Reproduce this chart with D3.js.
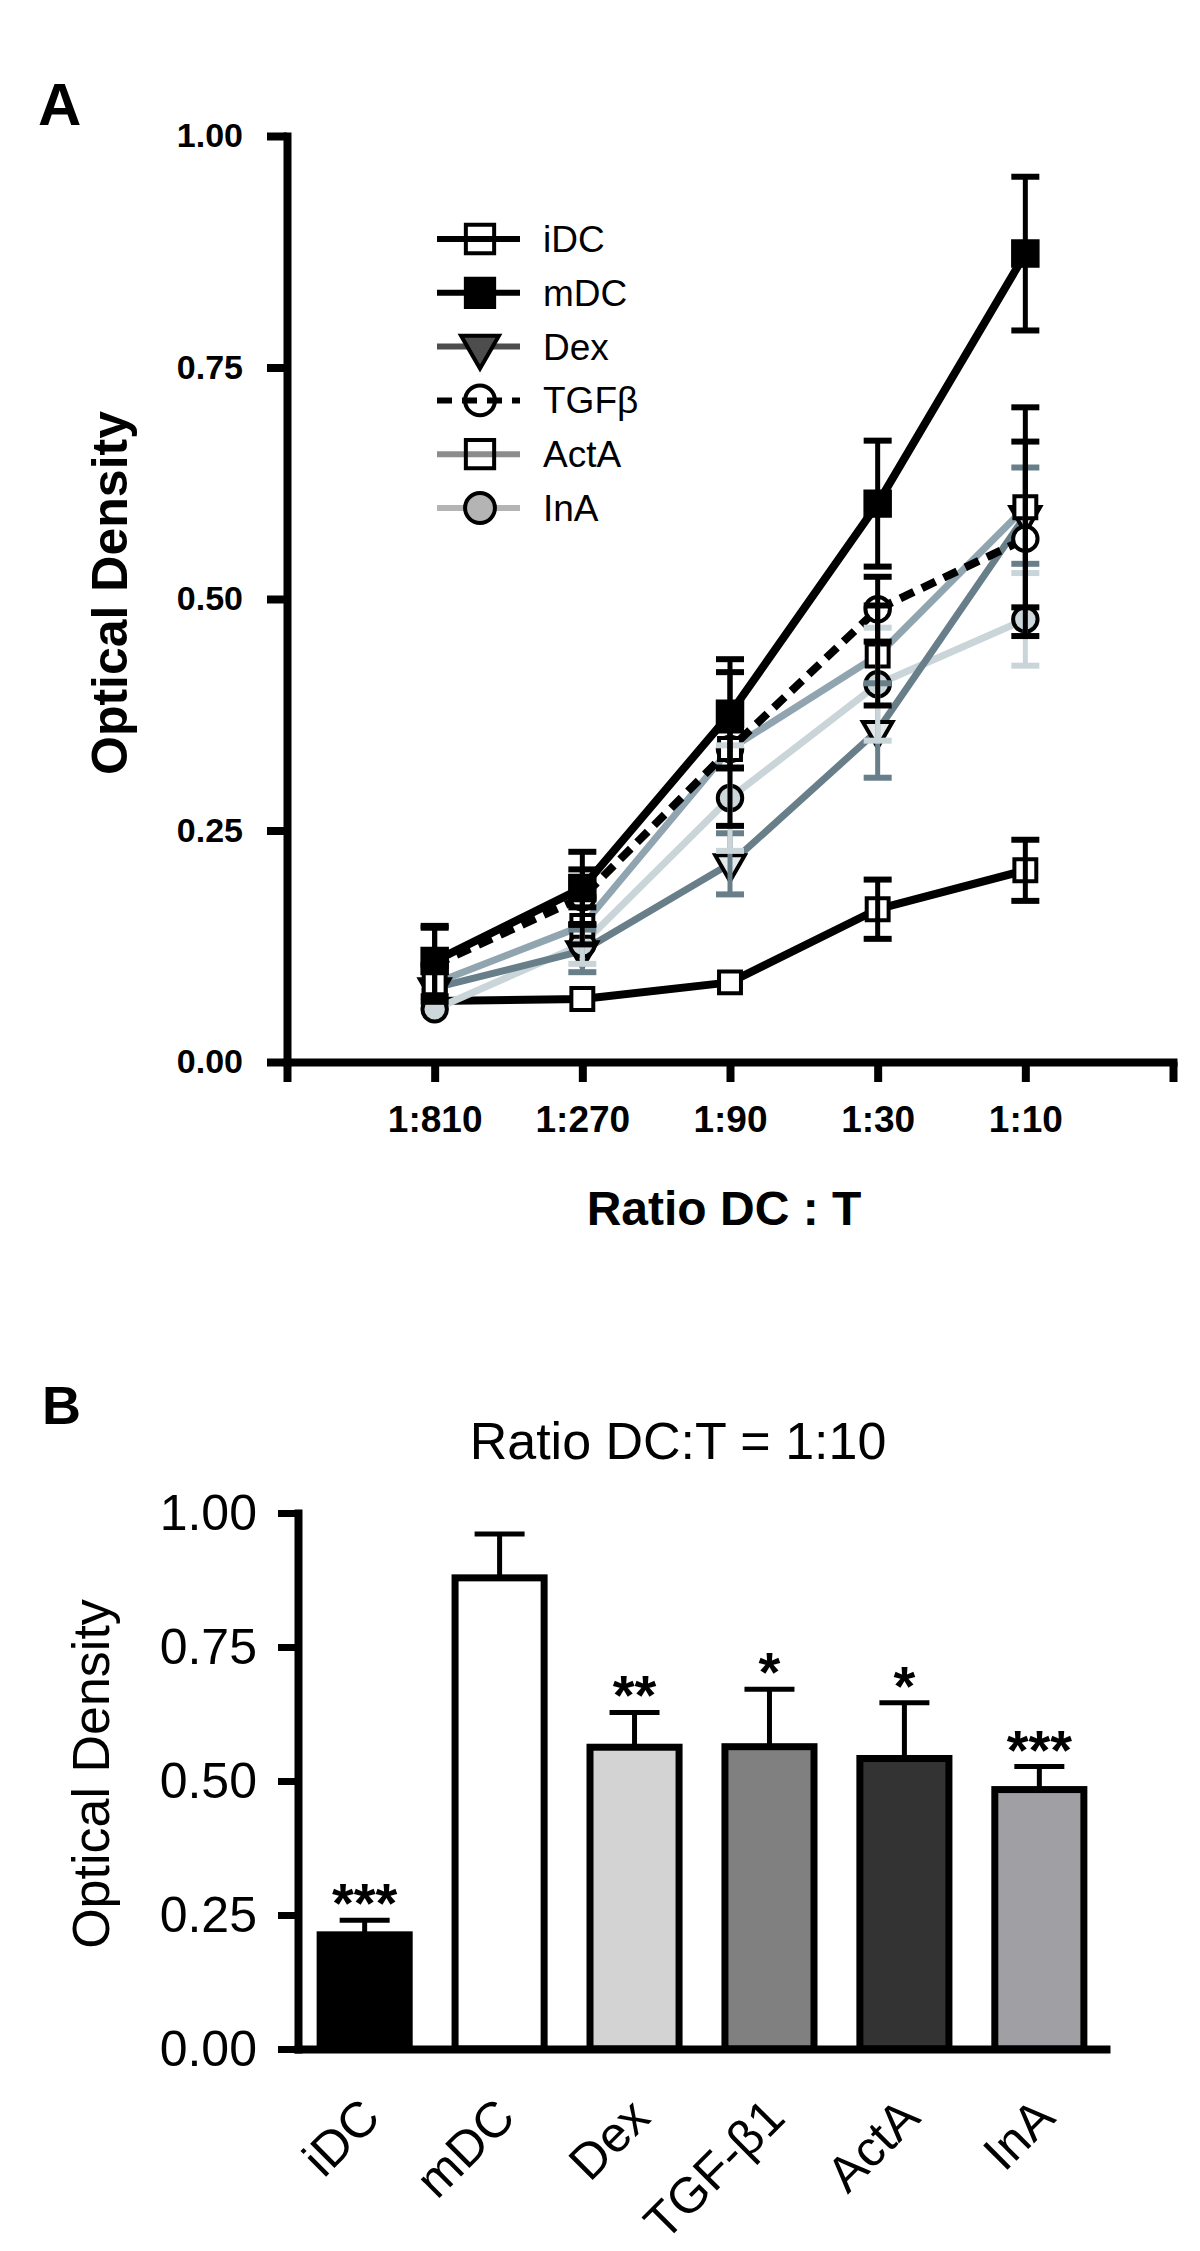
<!DOCTYPE html>
<html><head><meta charset="utf-8">
<script src="https://cdn.jsdelivr.net/npm/d3@7"></script>
<style>body{margin:0;background:#fff}svg{display:block}text{font-family:"Liberation Sans",Arial,Helvetica,sans-serif}</style>
</head><body><div id="c"></div>
<script>
// ---------- DATA ----------
const ratios = ["1:810","1:270","1:90","1:30","1:10"];
const seriesNames = ["iDC","mDC","Dex","TGFβ","ActA","InA"];
const iDC  = [0.066,0.068,0.086,0.165,0.207];
const iDCe = [0.008,0.008,0.010,0.032,0.033];
const mDC  = [0.109,0.188,0.376,0.603,0.873];
const mDCe = [0.038,0.039,0.059,0.068,0.083];
const Dex  = [0.080,0.120,0.214,0.358,0.590];
const Dexe = [0.010,0.023,0.033,0.051,0.052];
const TGF  = [0.105,0.178,0.338,0.489,0.565];
const TGFe = [0.040,0.030,0.083,0.035,0.105];
const ActA = [0.085,0.147,0.338,0.439,0.599];
const ActAe= [0.010,0.020,0.020,0.054,0.108];
const InA  = [0.057,0.127,0.285,0.408,0.478];
const InAe = [0.010,0.021,0.057,0.061,0.050];
const yTicksA = [0,0.25,0.5,0.75,1];

const barCats = ["iDC","mDC","Dex","TGF-β1","ActA","InA"];
const barVals = [0.213,0.879,0.563,0.564,0.542,0.484];
const barErr  = [0.027,0.082,0.065,0.107,0.104,0.043];
const barSig  = ["***","","**","*","*","***"];
const yTicksB = [0,0.25,0.5,0.75,1];

// ---------- STYLE ----------
const W=1200,H=2251;
const svg=d3.select("#c").append("svg").attr("width",W).attr("height",H);
svg.append("rect").attr("width",W).attr("height",H).attr("fill","#fff");

const S = {
 "iDC": {v:iDC,e:iDCe,line:"#000",lw:8,dash:null,sym:d3.symbolSquare,size:480,fill:"#fff",rot:0,ecol:"#000",
         lline:"#000",lfill:"none",lsize:800},
 "mDC": {v:mDC,e:mDCe,line:"#000",lw:8,dash:null,sym:d3.symbolSquare,size:600,fill:"#000",rot:0,ecol:"#000",
         lline:"#000",lfill:"#000",lsize:800},
 "Dex": {v:Dex,e:Dexe,line:"#687f8a",lw:7,dash:null,sym:d3.symbolTriangle,size:380,fill:"#e4e9eb",rot:180,ecol:"#687f8a",
         lline:"#4d4d4d",lfill:"#4d4d4d",lsize:620},
 "TGFβ":{v:TGF,e:TGFe,line:"#000",lw:8,dash:"15,9",sym:d3.symbolCircle,size:470,fill:"#fff",rot:0,ecol:"#000",
         lline:"#000",lfill:"none",lsize:700,ldash:"15,10"},
 "ActA":{v:ActA,e:ActAe,line:"#91a5b1",lw:7,dash:null,sym:d3.symbolSquare,size:480,fill:"#fff",rot:0,ecol:"#000",
         lline:"#8c8c8c",lfill:"none",lsize:800},
 "InA": {v:InA,e:InAe,line:"#c9d5d9",lw:7,dash:null,sym:d3.symbolCircle,size:470,fill:"#cdd7db",rot:0,ecol:"#c9d5d9",
         lline:"#b4b4b4",lfill:"#b4b4b4",lsize:700}
};

// ---------- PANEL A ----------
const xA=d3.scaleLinear([0,6],[287,1173]);
const yA=d3.scaleLinear([0,1],[1062,136]);
const gA=svg.append("g");

const axL=gA.append("g").attr("transform","translate(287,0)")
  .call(d3.axisLeft(yA).tickValues(yTicksA).tickFormat(d3.format(".2f")).tickSize(20).tickSizeOuter(0).tickPadding(24));
const axB=gA.append("g").attr("transform","translate(0,1062)")
  .call(d3.axisBottom(xA).tickValues([0,1,2,3,4,5,6]).tickFormat(i=>(i>=1&&i<=5)?ratios[i-1]:"").tickSize(20).tickSizeOuter(0).tickPadding(24));
[axL,axB].forEach(a=>{
  a.select(".domain").attr("stroke","#000").attr("stroke-width",8).attr("stroke-linecap","square");
  a.selectAll(".tick line").attr("stroke","#000").attr("stroke-width",8);
  a.selectAll("text").attr("fill","#000").attr("font-weight","bold");
});
axL.selectAll("text").attr("font-size",34);
axB.selectAll("text").attr("font-size",37);

gA.append("text").attr("x",38).attr("y",125).attr("font-size",60).attr("font-weight","bold").text("A");
gA.append("text").attr("transform","translate(127,593) rotate(-90)").attr("text-anchor","middle")
  .attr("font-size",50).attr("font-weight","bold").text("Optical Density");
gA.append("text").attr("x",724).attr("y",1225).attr("text-anchor","middle")
  .attr("font-size",48).attr("font-weight","bold").text("Ratio DC : T");

const lineGen=d3.line().x((d,i)=>xA(i+1)).y(d=>yA(d));
["iDC","InA","ActA","Dex","TGFβ","mDC"].forEach(n=>{
  const s=S[n];
  gA.append("path").attr("d",lineGen(s.v)).attr("fill","none").attr("stroke",s.line)
    .attr("stroke-width",s.lw).attr("stroke-dasharray",s.dash).attr("stroke-linejoin","round");
});
["iDC","Dex","InA","TGFβ","ActA","mDC"].forEach(n=>{
  const s=S[n];
  gA.selectAll(null).data(s.v).enter().append("path")
    .attr("d",d3.symbol(s.sym,s.size))
    .attr("transform",(d,i)=>`translate(${xA(i+1)},${yA(d)}) rotate(${s.rot})`)
    .attr("fill",s.fill).attr("stroke","#000").attr("stroke-width",4);
});
["iDC","Dex","InA","ActA","TGFβ","mDC"].forEach(n=>{
  const s=S[n];
  s.v.forEach((d,i)=>{
    const e=s.e[i]; if((yA(0)-yA(e))<14) return;
    const x=xA(i+1);
    const g=gA.append("g").attr("stroke",s.ecol);
    g.append("line").attr("x1",x).attr("x2",x).attr("y1",yA(d-e)).attr("y2",yA(d+e)).attr("stroke-width",5);
    [d-e,d+e].forEach(v=>g.append("line").attr("x1",x-14).attr("x2",x+14).attr("y1",yA(v)).attr("y2",yA(v)).attr("stroke-width",6));
  });
});

// legend
const ly=d3.scalePoint(seriesNames,[239,508]);
seriesNames.forEach(n=>{
  const s=S[n], y=ly(n);
  gA.append("line").attr("x1",437).attr("x2",520).attr("y1",y).attr("y2",y)
    .attr("stroke",s.lline).attr("stroke-width",6).attr("stroke-dasharray",s.ldash||null);
  gA.append("path").attr("d",d3.symbol(s.sym,s.lsize))
    .attr("transform",`translate(480,${y}) rotate(${s.rot})`)
    .attr("fill",s.lfill).attr("stroke","#000").attr("stroke-width",4);
  gA.append("text").attr("x",543).attr("y",y+13).attr("font-size",37).text(n);
});

// ---------- PANEL B ----------
const xB=d3.scaleBand(barCats,[298,1106]).paddingInner(0.34).paddingOuter(0.164);
const yB=d3.scaleLinear([0,1],[2049,1513]);
const barFill=["#000","#fff","#d3d3d3","#808080","#333333","#a0a0a4"];
const gB=svg.append("g");

gB.append("text").attr("x",42).attr("y",1424).attr("font-size",54).attr("font-weight","bold").text("B");
gB.append("text").attr("x",678).attr("y",1459).attr("text-anchor","middle").attr("font-size",52).text("Ratio DC:T = 1:10");
gB.append("text").attr("transform","translate(109,1774) rotate(-90)").attr("text-anchor","middle")
  .attr("font-size",52).text("Optical Density");

barCats.forEach((c,i)=>{
  const x=xB(c), bw=xB.bandwidth(), v=barVals[i], e=barErr[i], cx=x+bw/2;
  gB.append("line").attr("x1",cx).attr("x2",cx).attr("y1",yB(v)).attr("y2",yB(v+e)).attr("stroke","#000").attr("stroke-width",5);
  gB.append("line").attr("x1",cx-25).attr("x2",cx+25).attr("y1",yB(v+e)).attr("y2",yB(v+e)).attr("stroke","#000").attr("stroke-width",5);
  gB.append("rect").attr("x",x).attr("width",bw).attr("y",yB(v)).attr("height",yB(0)-yB(v))
    .attr("fill",barFill[i]).attr("stroke","#000").attr("stroke-width",7);
  if(barSig[i]) gB.append("text").attr("x",cx).attr("y",yB(v+e)+2).attr("text-anchor","middle")
    .attr("font-size",56).attr("font-weight","bold").text(barSig[i]);
  gB.append("text").attr("transform",`translate(${cx+18},2120) rotate(-45)`).attr("text-anchor","end")
    .attr("font-size",50).text(c);
});

const bL=gB.append("g").attr("transform","translate(298,0)")
  .call(d3.axisLeft(yB).tickValues(yTicksB).tickFormat(d3.format(".2f")).tickSize(20).tickSizeOuter(0).tickPadding(21));
const bX=gB.append("g").attr("transform","translate(0,2049)")
  .call(d3.axisBottom(xB).tickSize(0).tickSizeOuter(0).tickFormat(""));
[bL,bX].forEach(a=>{
  a.select(".domain").attr("stroke","#000").attr("stroke-width",8).attr("stroke-linecap","square");
  a.selectAll(".tick line").attr("stroke","#000").attr("stroke-width",7);
  a.selectAll("text").attr("fill","#000").attr("font-size",50);
});
</script></body></html>
